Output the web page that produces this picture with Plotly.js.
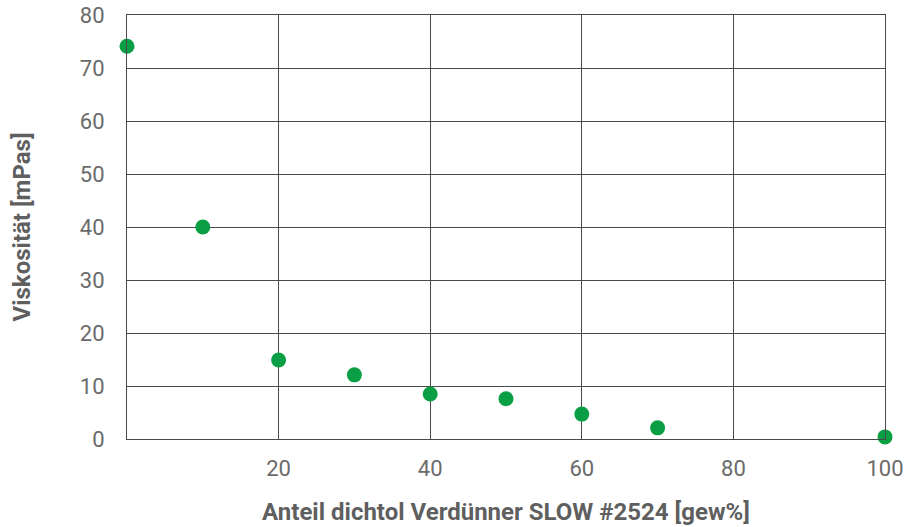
<!DOCTYPE html>
<html><head><meta charset="utf-8">
<script src="https://cdn.plot.ly/plotly-3.0.1.min.js"></script>
<style>html,body{margin:0;padding:0;background:#fff}</style>
</head><body><div id="chart" style="width:907px;height:527px"></div>
<script>
const anteil = [0, 10, 20, 30, 40, 50, 60, 70, 100];
const viskositaet = [74.1, 40, 14.9, 12.1, 8.5, 7.6, 4.7, 2.1, 0.4];
const xTicks = [20, 40, 60, 80, 100];
const yTicks = [0, 10, 20, 30, 40, 50, 60, 70, 80];

const trace = {
  x: anteil, y: viskositaet, type: 'scatter', mode: 'markers',
  marker: {color: '#0a9e45', size: 15}, cliponaxis: false, hoverinfo: 'x+y'
};
const layout = {
  width: 907, height: 527,
  margin: {l: 127, r: 22, t: 15, b: 88},
  paper_bgcolor: '#fff', plot_bgcolor: '#fff',
  font: {family: 'Roboto, sans-serif', color: '#6b6b6b', size: 22},
  showlegend: false,
  xaxis: {
    range: [0, 100], tickvals: xTicks, ticktext: xTicks.map(String),
    showgrid: true, gridcolor: '#4a4a4a', gridwidth: 1,
    showline: true, linecolor: '#4a4a4a', linewidth: 1, mirror: true,
    zeroline: false, ticks: '', ticklabelstandoff: 10,
    tickfont: {size: 22, color: '#6b6b6b'},
    title: {text: 'Anteil dichtol Verdünner SLOW #2524 [gew%]', standoff: 22,
            font: {size: 24, color: '#5f5f5f', family: 'Roboto, sans-serif', weight: 'bold'}}
  },
  yaxis: {
    range: [0, 80], tickvals: yTicks,
    showgrid: true, gridcolor: '#4a4a4a', gridwidth: 1,
    showline: true, linecolor: '#4a4a4a', linewidth: 1, mirror: true,
    zeroline: false, ticks: '', ticklabelstandoff: 17,
    tickfont: {size: 22, color: '#6b6b6b'},
    title: {text: 'Viskosität [mPas]', standoff: 42,
            font: {size: 24, color: '#5f5f5f', family: 'Roboto, sans-serif', weight: 'bold'}}
  }
};
Plotly.newPlot('chart', [trace], layout, {displayModeBar: false, staticPlot: true});
</script></body></html>
